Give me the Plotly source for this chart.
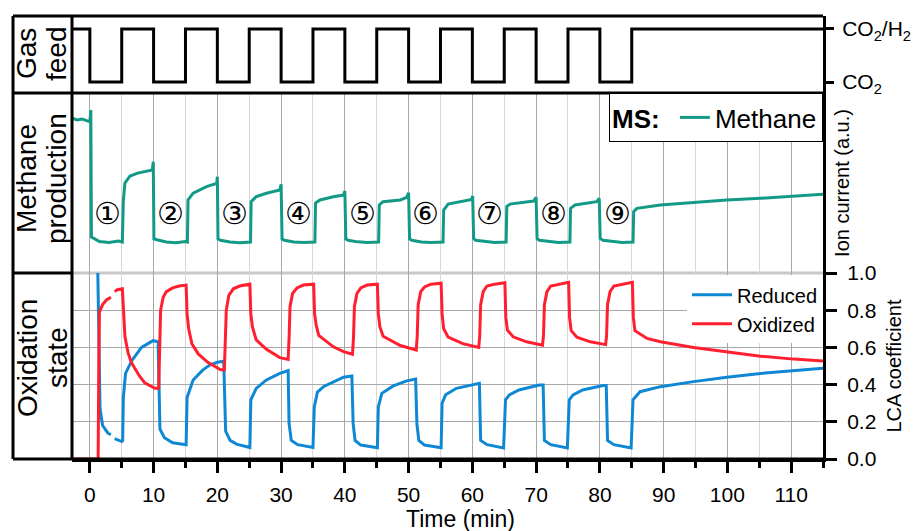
import plotly.graph_objects as go

# ---------------- data ----------------
# Gas feed (1 = CO2/H2, 0 = CO2), step changes
gas_t = [-2.8, 0, 5, 10, 15, 20, 25, 30, 35, 40, 45, 50, 55, 60, 65, 70, 75, 80, 85, 115]
gas_state = [1, 0, 1, 0, 1, 0, 1, 0, 1, 0, 1, 0, 1, 0, 1, 0, 1, 0, 1, 1]
gas_ticks = [0, 1]
gas_ticktext = ["CO<sub>2</sub>", "CO<sub>2</sub>/H<sub>2</sub>"]

# MS methane ion current (a.u.)
ch4_t = [-2.8, -2.0, -1.2, -0.5, 0.0, 0.15, 0.2, 0.25,
         0.5, 1.5, 3.0, 4.5, 5.1,
         5.25, 5.5, 6.0, 6.3, 7.5, 8.9, 9.8, 9.95, 10.05,
         10.5, 12.0, 13.5, 15.0, 15.3,
         15.4, 16.2, 18.3, 19.9, 20.0, 20.1,
         20.5, 22.0, 23.5, 25.2,
         25.3, 26.1, 27.7, 29.8, 30.0, 30.15,
         30.5, 32.0, 33.5, 35.3,
         35.4, 36.1, 38.2, 39.8, 40.0, 40.15,
         40.5, 42.0, 43.5, 45.3,
         45.4, 46.0, 48.7, 49.7, 50.0, 50.15,
         50.5, 52.0, 53.5, 55.4,
         55.5, 56.2, 58.1, 59.9, 60.05, 60.2,
         60.5, 62.0, 63.5, 65.3,
         65.4, 65.9, 67.5, 69.6, 70.0, 70.15,
         70.5, 72.0, 73.5, 75.3,
         75.4, 76.1, 78.0, 79.5, 79.9, 80.05,
         80.5, 82.0, 83.5, 85.2,
         85.3, 85.8, 87.4, 89.5, 94.7, 99.9, 105.2, 110.4, 115.0]
ch4_v = [8.60, 8.50, 8.55, 8.45, 8.40, 9.05, 4.60, 2.00,
         1.95, 1.75, 1.70, 1.78, 1.72,
         4.00, 5.00, 5.28, 5.39, 5.55, 5.63, 5.72, 6.18, 1.90,
         1.85, 1.72, 1.68, 1.75, 1.72,
         4.06, 4.44, 4.80, 4.98, 5.35, 1.90,
         1.82, 1.72, 1.68, 1.72,
         3.96, 4.24, 4.43, 4.61, 4.93, 1.90,
         1.82, 1.72, 1.70, 1.72,
         3.89, 4.06, 4.24, 4.33, 4.56, 1.90,
         1.82, 1.73, 1.70, 1.72,
         3.78, 3.96, 4.06, 4.20, 4.46, 1.90,
         1.82, 1.72, 1.70, 1.72,
         3.50, 3.83, 3.96, 4.09, 4.28, 1.92,
         1.82, 1.74, 1.70, 1.72,
         3.69, 3.83, 3.91, 4.00, 4.20, 1.92,
         1.82, 1.74, 1.70, 1.72,
         3.59, 3.78, 3.87, 3.96, 4.15, 1.92,
         1.82, 1.74, 1.70, 1.72,
         3.41, 3.59, 3.69, 3.78, 3.91, 4.06, 4.15, 4.28, 4.37]

# LCA coefficient - oxidized
ox_t = [-2.8, 1.3, 1.4, 1.5, 2.0, 2.6, 3.3, 3.6, 3.9, 4.3, 5.1,
        5.25, 5.5, 6.0, 6.5, 7.0, 7.8, 8.6, 9.4, 10.2, 10.8,
        10.95, 11.1, 11.5, 12.0, 13.0, 14.0, 15.1,
        15.25, 15.5, 16.0, 17.0, 18.5, 19.5, 20.5, 21.1,
        21.25, 21.4, 21.8, 22.5, 23.5, 25.1,
        25.25, 25.5, 26.1, 27.7, 29.8, 31.1,
        31.25, 31.4, 31.8, 32.5, 33.5, 35.1,
        35.25, 35.5, 35.9, 38.2, 39.8, 41.2,
        41.35, 41.5, 41.9, 42.5, 43.5, 45.1,
        45.25, 45.5, 46.0, 48.7, 51.2,
        51.35, 51.5, 51.9, 52.5, 53.5, 55.1,
        55.25, 55.5, 56.2, 58.5, 61.0,
        61.15, 61.3, 61.7, 62.3, 63.5, 65.1,
        65.25, 65.5, 66.4, 68.5, 71.0,
        71.15, 71.3, 71.7, 72.3, 73.5, 75.1,
        75.25, 75.5, 76.4, 78.5, 80.9,
        81.05, 81.2, 81.6, 82.2, 83.5, 85.1,
        85.25, 85.5, 87.4, 89.5, 94.7, 99.9, 105.2, 110.4, 115.0]
ox_v = [0.0, 0.0, 0.5, 0.79, 0.83, 0.855, 0.87, None, 0.90, 0.91, 0.915,
        0.78, 0.66, 0.57, 0.52, 0.49, 0.445, 0.41, 0.393, 0.38, 0.38,
        0.60, 0.80, 0.87, 0.90, 0.92, 0.93, 0.935,
        0.78, 0.70, 0.62, 0.565, 0.52, 0.50, 0.48, 0.48,
        0.65, 0.80, 0.88, 0.915, 0.93, 0.94,
        0.78, 0.71, 0.64, 0.59, 0.545, 0.535,
        0.65, 0.82, 0.89, 0.92, 0.935, 0.94,
        0.78, 0.72, 0.665, 0.603, 0.577, 0.563,
        0.65, 0.82, 0.89, 0.92, 0.935, 0.94,
        0.78, 0.71, 0.66, 0.61, 0.586,
        0.66, 0.83, 0.90, 0.925, 0.94, 0.945,
        0.78, 0.70, 0.655, 0.62, 0.60,
        0.66, 0.83, 0.90, 0.93, 0.94, 0.948,
        0.76, 0.693, 0.657, 0.63, 0.612,
        0.66, 0.83, 0.90, 0.93, 0.94, 0.95,
        0.76, 0.69, 0.655, 0.63, 0.615,
        0.66, 0.83, 0.90, 0.93, 0.94, 0.95,
        0.76, 0.69, 0.648, 0.63, 0.60, 0.577, 0.553, 0.537, 0.527]

# LCA coefficient - reduced
red_t = [1.25, 1.45, 1.6, 2.0, 2.8, 3.3, 3.6, 3.9, 5.0, 5.15,
         5.25, 5.6, 6.6, 8.1, 9.9, 10.7,
         10.85, 11.0, 11.7, 13.0, 15.1,
         15.25, 16.2, 17.7, 18.8, 20.0, 21.0,
         21.15, 21.3, 22.0, 23.0, 25.1,
         25.25, 26.1, 27.7, 29.8, 31.1,
         31.25, 31.6, 32.6, 35.0,
         35.2, 35.7, 36.7, 38.2, 39.8, 41.1,
         41.3, 41.6, 42.5, 45.1,
         45.25, 45.8, 47.6, 49.7, 51.1,
         51.3, 51.6, 52.5, 55.1,
         55.25, 55.8, 57.5, 60.0, 61.1,
         61.3, 62.3, 64.9,
         65.2, 65.8, 67.3, 70.5, 71.1,
         71.3, 72.3, 74.9,
         75.2, 75.8, 77.3, 80.5, 81.0,
         81.2, 82.2, 84.9,
         85.2, 86.3, 89.5, 94.7, 99.9, 105.2, 110.4, 115.0]
red_v = [1.0, 0.5, 0.27, 0.18, 0.14, 0.13, None, 0.11, 0.094, 0.10,
         0.33, 0.46, 0.53, 0.60, 0.636, 0.63,
         0.40, 0.16, 0.114, 0.087, 0.077,
         0.33, 0.425, 0.478, 0.505, 0.52, 0.525,
         0.35, 0.15, 0.10, 0.08, 0.062,
         0.318, 0.38, 0.425, 0.46, 0.475,
         0.19, 0.10, 0.077, 0.062,
         0.28, 0.36, 0.39, 0.415, 0.44, 0.446,
         0.19, 0.10, 0.075, 0.06,
         0.28, 0.353, 0.393, 0.42, 0.43,
         0.19, 0.10, 0.075, 0.06,
         0.30, 0.345, 0.38, 0.40, 0.407,
         0.10, 0.077, 0.059,
         0.318, 0.345, 0.371, 0.398, 0.398,
         0.10, 0.077, 0.059,
         0.318, 0.345, 0.371, 0.395, 0.395,
         0.10, 0.077, 0.059,
         0.318, 0.362, 0.389, 0.416, 0.44, 0.46, 0.475, 0.488]

cycle_start = [0, 10, 20, 30, 40, 50, 60, 70, 80]
cycle_label = ["\u2460", "\u2461", "\u2462", "\u2463", "\u2464", "\u2465", "\u2466", "\u2467", "\u2468"]
x_ticks = [0, 10, 20, 30, 40, 50, 60, 70, 80, 90, 100, 110]
lca_ticks = [0.0, 0.2, 0.4, 0.6, 0.8, 1.0]

# ---------------- style ----------------
TEAL = "#129A86"
RED = "#FF1F2F"
BLUE = "#0E88D4"
FONT = "Liberation Sans, Arial, sans-serif"
XR = [-2.8, 115]

fig = go.Figure()

fig.add_trace(go.Scatter(x=gas_t, y=gas_state, mode="lines", line=dict(color="black", width=3, shape="hv"),
                         xaxis="x3", yaxis="y3", showlegend=False, hoverinfo="skip"))
fig.add_trace(go.Scatter(x=ch4_t, y=ch4_v, mode="lines", name="Methane", line=dict(color=TEAL, width=3),
                         xaxis="x2", yaxis="y2", legend="legend2"))
fig.add_trace(go.Scatter(x=red_t, y=red_v, mode="lines", name="Reduced", line=dict(color=BLUE, width=3),
                         xaxis="x", yaxis="y", legend="legend"))
fig.add_trace(go.Scatter(x=ox_t, y=ox_v, mode="lines", name="Oxidized", line=dict(color=RED, width=3),
                         xaxis="x", yaxis="y", legend="legend"))

# The page body adds an 8 px margin, so the figure is drawn 8 px smaller and
# all page-pixel positions below are shifted by that offset.
OFF = 8
W, H = 922 - OFF, 531 - OFF
ML, MT = 72 - OFF, 16 - OFF
MR, MB = 99, 72
PW, PH = W - ML - MR, H - MT - MB


def px_x(p):  # page pixel -> paper x
    return (p - OFF - ML) / PW


def px_y(p):  # page pixel -> paper y
    return (H - MB - (p - OFF)) / PH


y_sep1 = px_y(273)   # oxidation / methane
y_sep2 = px_y(93)    # methane / gas
x_left = px_x(13)

grid_major = "#A8A8A8"
grid_minor = "#D8D8D8"

fig.update_layout(
    width=W, height=H,
    margin=dict(l=ML, r=MR, t=MT, b=MB, pad=0, autoexpand=False),
    paper_bgcolor="white", plot_bgcolor="white",
    font=dict(family=FONT, size=20, color="black"),
    xaxis=dict(domain=[0, 1], anchor="y", range=XR, tickvals=x_ticks, automargin=False,
               ticks="outside", ticklen=11, tickwidth=3, tickcolor="black",
               showline=True, linewidth=3, linecolor="black",
               showgrid=True, gridcolor=grid_major, gridwidth=1, zeroline=False,
               ticklabelstandoff=4, tickfont=dict(size=21),
               minor=dict(dtick=5, tick0=0, ticks="outside", ticklen=6, tickwidth=3, tickcolor="black",
                          showgrid=True, gridcolor=grid_minor, gridwidth=1)),
    yaxis=dict(domain=[0, y_sep1], anchor="x", side="right", range=[0, 1], automargin=False,
               tickvals=lca_ticks, ticktext=["%.1f" % v for v in lca_ticks],
               ticks="outside", ticklen=11, tickwidth=3, tickcolor="black",
               showline=True, linewidth=3, linecolor="black",
               showgrid=True, gridcolor=grid_major, gridwidth=1, zeroline=False,
               ticklabelstandoff=6, tickfont=dict(size=21),
               title=dict(text="LCA coefficient", font=dict(size=20), standoff=12)),
    xaxis2=dict(domain=[0, 1], anchor="y2", range=XR, matches="x", tickvals=x_ticks, automargin=False,
                showticklabels=False, ticks="", showline=False,
                showgrid=True, gridcolor=grid_major, gridwidth=1, zeroline=False,
                minor=dict(dtick=5, tick0=0, showgrid=True, gridcolor=grid_minor, gridwidth=1)),
    yaxis2=dict(domain=[y_sep1, y_sep2], anchor="x2", side="right", range=[0, 10], automargin=False,
                showticklabels=False, ticks="", showgrid=False, zeroline=False,
                showline=True, linewidth=3, linecolor="black",
                title=dict(text="Ion current (a.u.)", font=dict(size=20), standoff=10)),
    xaxis3=dict(domain=[0, 1], anchor="y3", range=XR, matches="x", automargin=False,
                showticklabels=False, ticks="", showline=False, showgrid=False, zeroline=False),
    yaxis3=dict(domain=[y_sep2, 1], anchor="x3", side="right", range=[-0.2075, 1.245], automargin=False,
                tickvals=gas_ticks, ticktext=gas_ticktext,
                ticks="outside", ticklen=8, tickwidth=3, tickcolor="black",
                showline=True, linewidth=3, linecolor="black", showgrid=False, zeroline=False,
                ticklabelstandoff=4, tickfont=dict(size=21)),
    legend=dict(x=1, xanchor="right", y=y_sep1 - 0.005, yanchor="top", bgcolor="white",
                borderwidth=0, font=dict(size=20), tracegroupgap=0, itemwidth=40,
                traceorder="normal"),
    legend2=dict(x=1, xanchor="right", y=y_sep2, yanchor="top", bgcolor="white",
                 bordercolor="black", borderwidth=1, font=dict(size=26),
                 title=dict(text="<b>MS:</b>\u00a0", side="left", font=dict(size=26))),
    showlegend=True,
)

# frame lines (paper coords)
blk = dict(color="black", width=3)
shapes = [
    dict(type="line", xref="paper", yref="paper", x0=x_left, x1=1, y0=1, y1=1, line=blk),
    dict(type="line", xref="paper", yref="paper", x0=x_left, x1=1, y0=0, y1=0, line=blk),
    dict(type="line", xref="paper", yref="paper", x0=x_left, x1=x_left, y0=0, y1=1, line=blk),
    dict(type="line", xref="paper", yref="paper", x0=0, x1=0, y0=0, y1=1, line=blk),
    dict(type="line", xref="paper", yref="paper", x0=x_left, x1=1, y0=y_sep2, y1=y_sep2, line=blk),
    dict(type="line", xref="paper", yref="paper", x0=x_left, x1=0, y0=y_sep1, y1=y_sep1, line=blk),
    dict(type="line", xref="paper", yref="paper", x0=0, x1=1, y0=y_sep1, y1=y_sep1,
         line=dict(color="#C8C8C8", width=3), layer="below"),
]
fig.update_layout(shapes=shapes)

ann = []
# panel labels in left column
lab_font = dict(family=FONT, size=28, color="black")
for txt, xp, yp in [("Gas", 27, 54), ("feed", 57, 54),
                    ("Methane", 27, 179), ("production", 57, 179),
                    ("Oxidation", 27, 358), ("state", 57, 358)]:
    ann.append(dict(text=txt, xref="paper", yref="paper", x=px_x(xp), y=px_y(yp),
                    xanchor="center", yanchor="middle", textangle=-90, showarrow=False, font=lab_font))
# cycle numbers
for cs, lab in zip(cycle_start, cycle_label):
    ann.append(dict(text=lab, xref="x2", yref="y2", x=cs + 2.7, y=3.33, showarrow=False,
                    xanchor="center", yanchor="middle",
                    font=dict(family="DejaVu Sans", size=30, color="black")))
# x axis title
ann.append(dict(text="Time (min)", xref="paper", yref="paper", x=px_x(460), y=px_y(519),
                xanchor="center", yanchor="middle", showarrow=False, font=dict(family=FONT, size=23)))
fig.update_layout(annotations=ann)

fig.write_html("out.html")
